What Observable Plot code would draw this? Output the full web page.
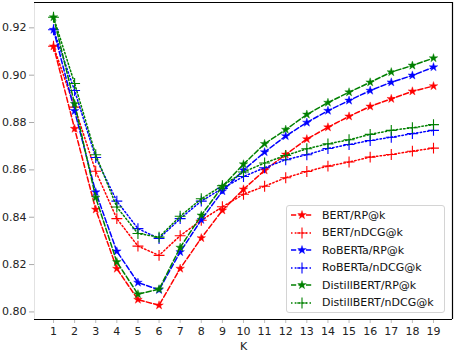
<!DOCTYPE html>
<html>
<head>
<meta charset="utf-8">
<script src="https://cdn.jsdelivr.net/npm/d3@7"></script>
<script src="https://cdn.jsdelivr.net/npm/@observablehq/plot@0.6"></script>
<style>
  html, body { margin: 0; padding: 0; background: #fff; }
  #wrap { position: relative; width: 454px; height: 352px; font-family: "DejaVu Sans", sans-serif; }
  #legend { position: absolute; left: 286px; top: 205px; width: 159px; height: 108px;
    border: 1px solid #d4d4d4; border-radius: 3px; background: rgba(255,255,255,0.85); box-sizing: border-box; }
  .row { position: absolute; left: 0; height: 17px; display: flex; align-items: center; font-size: 11px; color: #111; }
  .row svg { margin-left: 4px; margin-right: 9px; }
</style>
</head>
<body>
<div id="wrap"></div>
<script>
const K = [1,2,3,4,5,6,7,8,9,10,11,12,13,14,15,16,17,18,19];
const xTicks = K;
const yTicks = [0.80, 0.82, 0.84, 0.86, 0.88, 0.90, 0.92];

const BERT_RP   = [0.9122,0.8774,0.8433,0.8183,0.8052,0.8028,0.8183,0.8312,0.8429,0.8518,0.8598,0.8665,0.8730,0.8780,0.8826,0.8868,0.8900,0.8932,0.8954];
const BERT_nDCG = [0.9122,0.8865,0.8594,0.8394,0.8278,0.8239,0.8322,0.8387,0.8444,0.8497,0.8531,0.8567,0.8593,0.8616,0.8633,0.8654,0.8665,0.8679,0.8692];
const RoBERTa_RP   = [0.9192,0.8849,0.8506,0.8256,0.8124,0.8093,0.8253,0.8389,0.8510,0.8599,0.8675,0.8743,0.8800,0.8850,0.8893,0.8935,0.8970,0.8999,0.9034];
const RoBERTa_nDCG = [0.9192,0.8935,0.8652,0.8468,0.8352,0.8310,0.8394,0.8468,0.8522,0.8572,0.8609,0.8643,0.8664,0.8690,0.8707,0.8724,0.8738,0.8753,0.8767];
const Distill_RP   = [0.9245,0.8879,0.8483,0.8211,0.8075,0.8096,0.8272,0.8408,0.8530,0.8624,0.8710,0.8770,0.8834,0.8884,0.8928,0.8970,0.9013,0.9041,0.9072];
const Distill_nDCG = [0.9245,0.8965,0.8664,0.8443,0.8331,0.8316,0.8404,0.8478,0.8533,0.8591,0.8629,0.8661,0.8689,0.8710,0.8727,0.8750,0.8767,0.8778,0.8791];

const seriesNames = ["BERT/RP@k","BERT/nDCG@k","RoBERTa/RP@k","RoBERTa/nDCG@k","DistillBERT/RP@k","DistillBERT/nDCG@k"];
const seriesValues = [BERT_RP, BERT_nDCG, RoBERTa_RP, RoBERTa_nDCG, Distill_RP, Distill_nDCG];
const seriesColors = ["#ff0000","#ff0000","#0000ff","#0000ff","#008000","#008000"];
const seriesKind = ["RP","nDCG","RP","nDCG","RP","nDCG"];

const dash = {RP: "5.2,2.3", nDCG: "1.5,2.2"};
const starR = 2.7, plusR = 3.6;

const series = seriesNames.map((name, i) => ({
  name, color: seriesColors[i], kind: seriesKind[i],
  data: K.map((k, j) => ({k, v: seriesValues[i][j]}))
}));

const xDomain = [0.1, 19.9];
const yDomain = [0.7968, 0.9307];

const marks = [];
for (const s of series) {
  marks.push(Plot.line(s.data, {x: "k", y: "v", stroke: s.color, strokeWidth: 1.5, strokeDasharray: dash[s.kind]}));
  if (s.kind === "RP") {
    marks.push(Plot.dot(s.data, {x: "k", y: "v", symbol: "star", fill: s.color, r: starR, stroke: s.color, strokeWidth: 0.4}));
  } else {
    marks.push(Plot.dot(s.data, {x: "k", y: "v", symbol: "plus", stroke: s.color, r: plusR, strokeWidth: 1.1}));
  }
}

const chart = Plot.plot({
  width: 454, height: 352,
  marginLeft: 34, marginRight: 2, marginTop: 2, marginBottom: 33,
  style: {fontFamily: "DejaVu Sans, sans-serif", fontSize: "11px", background: "white", overflow: "visible"},
  x: {domain: xDomain, ticks: xTicks, tickFormat: d => String(d)},
  y: {domain: yDomain, ticks: yTicks, tickFormat: d => d.toFixed(2)},
  marks: [
    Plot.axisY({ticks: yTicks, tickFormat: d => d.toFixed(2), tickSize: 5, tickPadding: 3, stroke: "#aaa", fill: "#222", label: null}),
    Plot.axisX({ticks: xTicks, tickFormat: d => String(d), tickSize: 4, tickPadding: 4, stroke: "#bbb", fill: "#222", label: null}),
    Plot.ruleX([xDomain[0]], {stroke: "#e2e2e2", strokeWidth: 1}),
    Plot.ruleY([yDomain[1]], {stroke: "#000", strokeWidth: 1.2}),
    Plot.ruleY([yDomain[0]], {stroke: "#000", strokeWidth: 1.2}),
    Plot.ruleX([xDomain[1]], {stroke: "#000", strokeWidth: 1.2}),
    ...marks,
    Plot.text(["K"], {frameAnchor: "bottom", dy: 30, fill: "#222", fontSize: 11})
  ]
});
const wrap = document.getElementById("wrap");
wrap.appendChild(chart);

// Legend overlay
const legend = document.createElement("div");
legend.id = "legend";
wrap.appendChild(legend);
series.forEach((s, i) => {
  const row = document.createElement("div");
  row.className = "row";
  row.style.top = (0.5 + i * 17.5) + "px";
  const svg = d3.create("svg").attr("width", 22).attr("height", 12);
  svg.append("line").attr("x1", 0).attr("x2", 22).attr("y1", 6).attr("y2", 6)
    .attr("stroke", s.color).attr("stroke-width", 1.5).attr("stroke-dasharray", dash[s.kind]);
  if (s.kind === "RP") {
    svg.append("path").attr("d", d3.symbol(d3.symbolStar, Math.PI * starR * starR)())
      .attr("transform", "translate(11,6)").attr("fill", s.color).attr("stroke", s.color).attr("stroke-width", 0.4);
  } else {
    svg.append("path").attr("d", d3.symbol(d3.symbolPlus, Math.PI * plusR * plusR)())
      .attr("transform", "translate(11,6)").attr("fill", "none").attr("stroke", s.color).attr("stroke-width", 1.1);
  }
  row.appendChild(svg.node());
  const t = document.createElement("span");
  t.textContent = s.name;
  row.appendChild(t);
  legend.appendChild(row);
});
</script>
</body>
</html>
